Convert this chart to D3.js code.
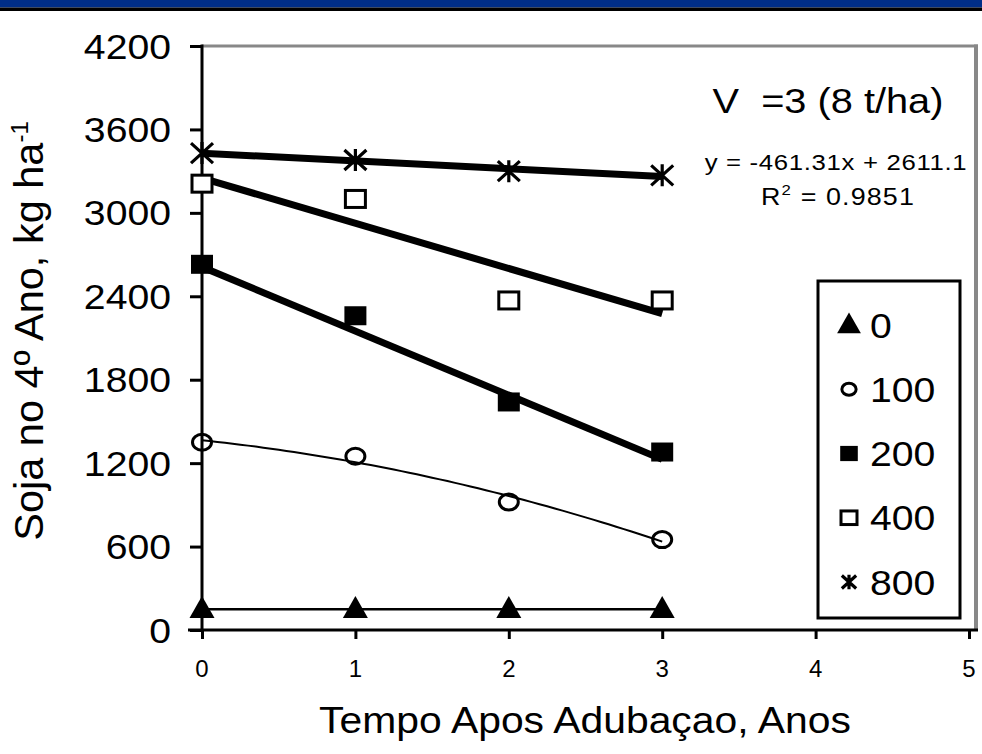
<!DOCTYPE html>
<html>
<head>
<meta charset="utf-8">
<script src="https://cdn.jsdelivr.net/npm/d3@7"></script>
<style>
  html, body { margin: 0; padding: 0; background: #fff; }
  svg { display: block; font-family: "Liberation Sans", Arial, sans-serif; }
  text { white-space: pre; }
</style>
</head>
<body>
<svg id="chart" width="982" height="754"></svg>
<script>
// ---------- data ----------
const years = [0, 1, 2, 3];
const doses = ["0", "100", "200", "400", "800"];
const yield0   = [150, 150, 150, 150];
const yield100 = [1350, 1250, 920, 650];
const yield200 = [2630, 2260, 1640, 1280];
const yield400 = [3210, 3100, 2370, 2370];
const yield800 = [3430, 3380, 3300, 3270];
const xTicks = [0, 1, 2, 3, 4, 5];
const yTicks = [0, 600, 1200, 1800, 2400, 3000, 3600, 4200];
const eqSlope = -461.31, eqIntercept = 2611.1, eqR2 = 0.9851;
const titleText = "V  =3 (8 t/ha)";
const xTitle = "Tempo Apos Adubaçao, Anos";
const yTitle = "Soja no 4º Ano, kg ha";

// ---------- layout ----------
const SX = 1.12; // horizontal stretch of the original image
const svg = d3.select("#chart");
const x = d3.scaleLinear().domain([0, 5]).range([202, 969]);
const y = d3.scaleLinear().domain([0, 4200]).range([630, 46]);

// banner
svg.append("rect").attr("x", 0).attr("y", 0).attr("width", 982).attr("height", 7.5).attr("fill", "#002E88");
svg.append("rect").attr("x", 0).attr("y", 7.5).attr("width", 982).attr("height", 3.5).attr("fill", "#000");

// plot frame (gray top/right)
svg.append("line").attr("x1", x(0)).attr("x2", 978).attr("y1", y(4200)).attr("y2", y(4200))
  .attr("stroke", "#888").attr("stroke-width", 3);
svg.append("line").attr("x1", 976).attr("x2", 976).attr("y1", y(4200) - 1.5).attr("y2", y(0))
  .attr("stroke", "#888").attr("stroke-width", 4);

// y axis
const yAxis = d3.axisLeft(y).tickValues(yTicks).tickSize(12).tickFormat("");
const gy = svg.append("g").attr("transform", `translate(${x(0)},0)`).call(yAxis);
gy.select(".domain").attr("stroke", "#000").attr("stroke-width", 3).attr("d", `M0,${y(4200)-1.5}V${y(0)+1.5}`);
gy.selectAll(".tick line").attr("stroke", "#000").attr("stroke-width", 3);
svg.append("g").selectAll("text").data(yTicks).join("text")
  .attr("transform", d => `translate(171,${y(d)}) scale(${SX},1)`)
  .attr("dy", "0.36em").attr("text-anchor", "end")
  .attr("font-size", 35).attr("fill", "#000").text(d => d);

// x axis
const xAxis = d3.axisBottom(x).tickValues(xTicks).tickSize(9).tickFormat("");
const gx = svg.append("g").attr("transform", `translate(0,${y(0)})`).call(xAxis);
gx.select(".domain").attr("stroke", "#000").attr("stroke-width", 3).attr("d", `M${x(0)-14},0H${978}`);
gx.selectAll(".tick line").attr("stroke", "#000").attr("stroke-width", 3);
svg.append("g").selectAll("text").data(xTicks).join("text")
  .attr("transform", d => `translate(${x(d)},677) scale(1,1)`)
  .attr("text-anchor", "middle").attr("font-size", 24).attr("fill", "#000").text(d => d);

// axis titles
svg.append("text").attr("transform", `translate(585,733) scale(${SX},1)`)
  .attr("text-anchor", "middle").attr("font-size", 36.5).attr("fill", "#000").text(xTitle);
const yt = svg.append("text").attr("transform", `translate(43,331) rotate(-90)`)
  .attr("text-anchor", "middle").attr("font-size", 41.5).attr("fill", "#000");
yt.append("tspan").text(yTitle);
yt.append("tspan").attr("dy", -15).attr("font-size", 24).text("-1");

// ---------- trend lines ----------
function linReg(xs, ys) {
  const mx = d3.mean(xs), my = d3.mean(ys);
  const sxy = d3.sum(xs, (v, i) => (v - mx) * (ys[i] - my));
  const sxx = d3.sum(xs, v => (v - mx) * (v - mx));
  const b = sxy / sxx;
  return { b, a: my - b * mx };
}
function quadReg(xs, ys) {
  const n = xs.length;
  const s = k => d3.sum(xs, v => Math.pow(v, k));
  const t = k => d3.sum(xs, (v, i) => Math.pow(v, k) * ys[i]);
  const M = [[n, s(1), s(2)], [s(1), s(2), s(3)], [s(2), s(3), s(4)]];
  const R = [t(0), t(1), t(2)];
  for (let i = 0; i < 3; i++) {
    for (let j = i + 1; j < 3; j++) {
      const f = M[j][i] / M[i][i];
      for (let k = i; k < 3; k++) M[j][k] -= f * M[i][k];
      R[j] -= f * R[i];
    }
  }
  const c = R[2] / M[2][2];
  const b = (R[1] - M[1][2] * c) / M[1][1];
  const a = (R[0] - M[0][1] * b - M[0][2] * c) / M[0][0];
  return v => a + b * v + c * v * v;
}
const line = d3.line().x(d => x(d[0])).y(d => y(d[1]));
const xs0 = years[0], xs1 = years[years.length - 1];

// 0 series: connecting line
svg.append("path").datum(years.map((v, i) => [v, yield0[i]])).attr("d", line)
  .attr("fill", "none").attr("stroke", "#000").attr("stroke-width", 2.5);

// 100 series: polynomial trend (thin)
const q = quadReg(years, yield100);
const qpts = d3.range(0, 61).map(i => xs0 + (xs1 - xs0) * i / 60).map(v => [v, q(v)]);
svg.append("path").datum(qpts).attr("d", line)
  .attr("fill", "none").attr("stroke", "#000").attr("stroke-width", 2);

// 200 series: linear trend from displayed equation
svg.append("path").datum([[xs0, eqIntercept + eqSlope * xs0], [xs1, eqIntercept + eqSlope * xs1]]).attr("d", line)
  .attr("fill", "none").attr("stroke", "#000").attr("stroke-width", 7);

// 400, 800 series: linear regression
[yield400, yield800].forEach(ys => {
  const r = linReg(years, ys);
  svg.append("path").datum([[xs0, r.a + r.b * xs0], [xs1, r.a + r.b * xs1]]).attr("d", line)
    .attr("fill", "none").attr("stroke", "#000").attr("stroke-width", 7);
});

// ---------- markers ----------
function drawMarker(g, type, cx, cy, s) {
  s = s || 1;
  if (type === "0") {
    const w = 25 * s, h = 22 * s;
    g.append("path").attr("d", `M${cx},${cy - h * 0.6}L${cx + w / 2},${cy + h * 0.4}L${cx - w / 2},${cy + h * 0.4}Z`)
      .attr("fill", "#000");
  } else if (type === "100") {
    g.append("ellipse").attr("cx", cx).attr("cy", cy).attr("rx", 9.5 * s).attr("ry", 8 * s)
      .attr("fill", "none").attr("stroke", "#000").attr("stroke-width", 3);
  } else if (type === "200") {
    const w = 22 * s, h = 19 * s;
    g.append("rect").attr("x", cx - w / 2).attr("y", cy - h / 2).attr("width", w).attr("height", h).attr("fill", "#000");
  } else if (type === "400") {
    const w = 20 * s, h = 17 * s;
    g.append("rect").attr("x", cx - w / 2).attr("y", cy - h / 2).attr("width", w).attr("height", h)
      .attr("fill", "#fff").attr("stroke", "#000").attr("stroke-width", 3);
  } else if (type === "800") {
    const w = 11 * s, h = 10 * s;
    g.append("path").attr("d", `M${cx - w},${cy - h}L${cx + w},${cy + h}M${cx - w},${cy + h}L${cx + w},${cy - h}M${cx},${cy - h * 1.1}V${cy + h * 1.1}`)
      .attr("fill", "none").attr("stroke", "#000").attr("stroke-width", 3.2);
  }
}
const seriesValues = [yield0, yield100, yield200, yield400, yield800];
const mg = svg.append("g");
doses.forEach((d, k) => {
  years.forEach((v, i) => drawMarker(mg, d, x(v), y(seriesValues[k][i])));
});

// ---------- annotations ----------
svg.append("text").attr("transform", `translate(828,113) scale(${SX},1)`)
  .attr("text-anchor", "middle").attr("font-size", 35.5).attr("fill", "#000").text(titleText);
svg.append("text").attr("transform", `translate(836,170) scale(${SX},1)`)
  .attr("text-anchor", "middle").attr("font-size", 23).attr("letter-spacing", 0.6).attr("fill", "#000")
  .text(`y = ${eqSlope}x + ${eqIntercept}`);
const r2 = svg.append("text").attr("transform", `translate(838,205) scale(${SX},1)`)
  .attr("text-anchor", "middle").attr("font-size", 24).attr("letter-spacing", 1).attr("fill", "#000");
r2.append("tspan").text("R");
r2.append("tspan").attr("dy", -10).attr("font-size", 15).text("2");
r2.append("tspan").attr("dy", 10).text(` = ${eqR2}`);

// ---------- legend ----------
const lg = svg.append("g");
lg.append("rect").attr("x", 818).attr("y", 281).attr("width", 142).attr("height", 337)
  .attr("fill", "#fff").attr("stroke", "#000").attr("stroke-width", 3);
const legY = d3.scalePoint().domain(doses).range([325, 582]);
doses.forEach(d => {
  drawMarker(lg, d, 849, legY(d), d === "0" ? 0.95 : (d === "100" ? 0.75 : (d === "800" ? 0.65 : 0.8)));
  lg.append("text").attr("transform", `translate(870,${legY(d)}) scale(${SX},1)`)
    .attr("dy", "0.36em").attr("font-size", 35).attr("fill", "#000").text(d);
});
</script>
</body>
</html>
